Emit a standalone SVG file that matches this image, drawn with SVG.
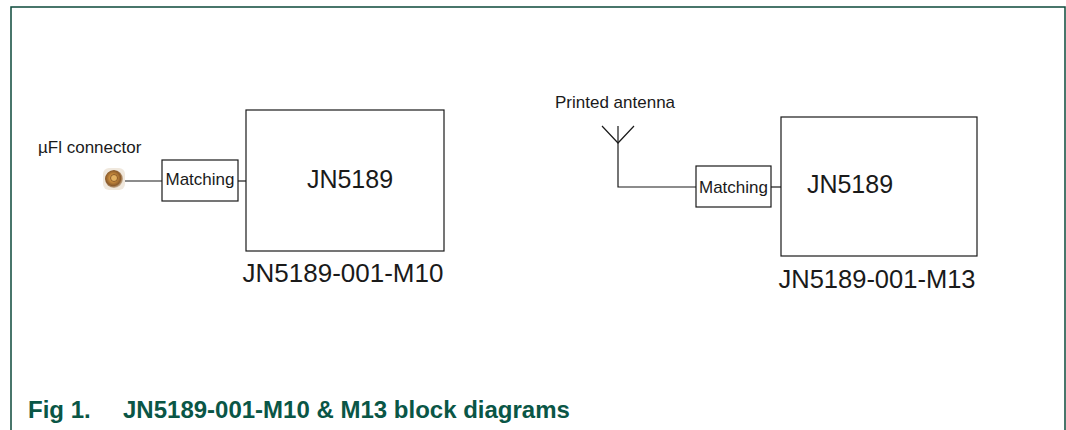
<svg xmlns="http://www.w3.org/2000/svg" width="1066" height="430" viewBox="0 0 1066 430">
<style>
  .box{fill:#fff;stroke:#1a1a1a;stroke-width:1.2}
  .wire{fill:none;stroke:#1a1a1a;stroke-width:1.2}
  .lbl{font-family:"Liberation Sans",Arial,sans-serif;fill:#1a1a1a}
  .cap{font-family:"Liberation Sans",Arial,sans-serif;font-weight:bold;font-size:24px;fill:#0a5646}
</style>
<defs>
  <radialGradient id="ufl" cx="0.45" cy="0.45" r="0.6">
    <stop offset="0" stop-color="#f4c770"/>
    <stop offset="0.35" stop-color="#c98b3c"/>
    <stop offset="0.7" stop-color="#8a5a2a"/>
    <stop offset="1" stop-color="#e8dccb"/>
  </radialGradient>
</defs>
<rect width="1066" height="430" fill="#fff"/>
<rect x="11" y="7" width="1054" height="440" fill="none" stroke="#0d4a3b" stroke-width="1.5"/>

<g id="connectors">
  <line class="wire" x1="125" y1="181" x2="162" y2="181"/>
  <line class="wire" x1="238" y1="181" x2="246" y2="181"/>
  <polyline class="wire" points="602,126 618,143 634,126"/>
  <polyline class="wire" points="618,126 618,187 696,187"/>
  <line class="wire" x1="771" y1="187" x2="781" y2="187"/>
</g>

<g id="ufl-connector">
  <rect x="103" y="168" width="22" height="22" rx="6" fill="#ece2d4" opacity="0.8"/>
  <circle cx="114" cy="179" r="9" fill="url(#ufl)"/>
  <circle cx="114" cy="178" r="3.5" fill="#e2b060" stroke="#7a4a20" stroke-width="0.8"/>
  <text class="lbl" x="38" y="153" font-size="17">µFl connector</text>
</g>

<g id="matching-m10">
  <rect class="box" x="162" y="160" width="76" height="41"/>
  <text class="lbl" x="200" y="185" font-size="17" text-anchor="middle">Matching</text>
</g>

<g id="jn5189-m10">
  <rect class="box" x="246" y="110" width="198" height="141"/>
  <text class="lbl" x="350" y="188" font-size="25" text-anchor="middle">JN5189</text>
  <text class="lbl" x="343" y="282" font-size="26" text-anchor="middle">JN5189-001-M10</text>
</g>

<g id="antenna">
  <text class="lbl" x="555" y="108" font-size="17">Printed antenna</text>
</g>

<g id="matching-m13">
  <rect class="box" x="696" y="166" width="75" height="41"/>
  <text class="lbl" x="733.5" y="193" font-size="17" text-anchor="middle">Matching</text>
</g>

<g id="jn5189-m13">
  <rect class="box" x="781" y="117" width="196" height="139"/>
  <text class="lbl" x="850" y="193" font-size="25" text-anchor="middle">JN5189</text>
  <text class="lbl" x="877" y="288" font-size="25.5" text-anchor="middle">JN5189-001-M13</text>
</g>

<g id="caption">
  <text class="cap" x="28" y="418">Fig 1.</text>
  <text class="cap" x="123" y="418">JN5189-001-M10 &amp; M13 block diagrams</text>
</g>
</svg>
